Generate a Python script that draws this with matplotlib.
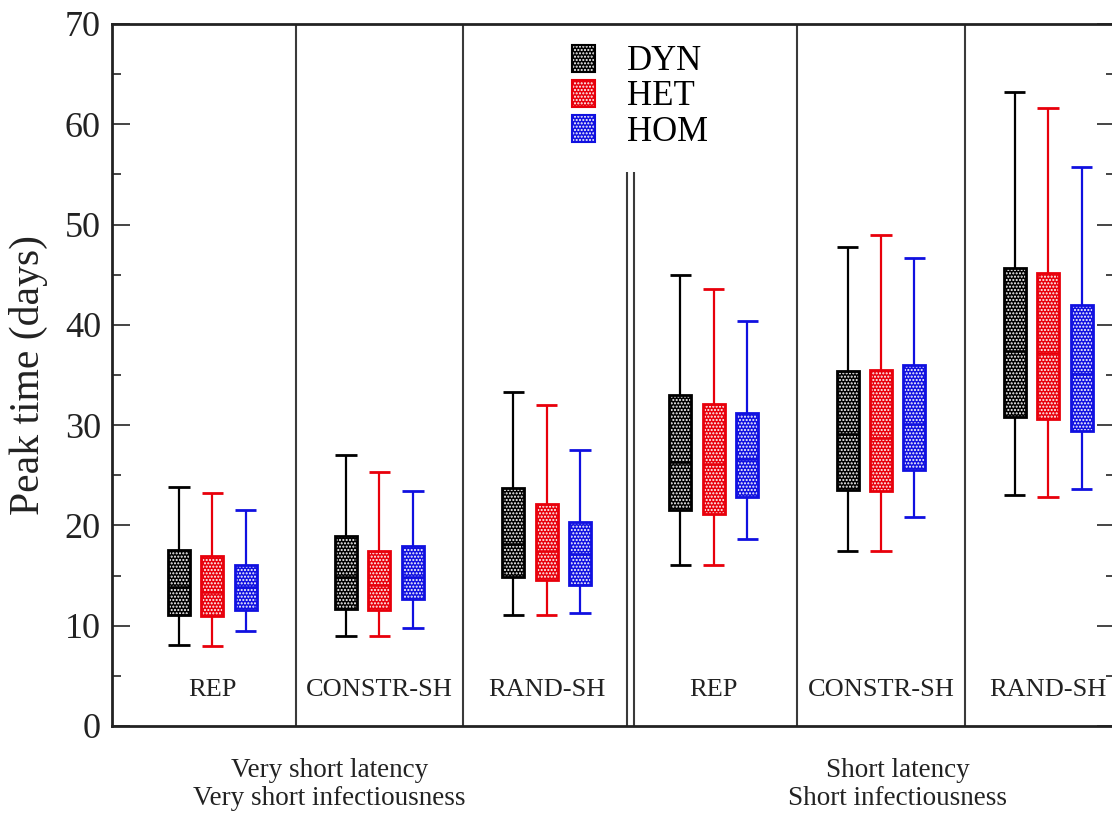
import matplotlib
matplotlib.use("Agg")
import matplotlib.pyplot as plt
from matplotlib.patches import Patch
from matplotlib.ticker import MultipleLocator

plt.rcParams['font.family'] = ['Liberation Serif', 'DejaVu Serif']
plt.rcParams['hatch.linewidth'] = 1.0

# ---------------- data ----------------
categories = ["REP", "CONSTR-SH", "RAND-SH", "REP", "CONSTR-SH", "RAND-SH"]
series = ["DYN", "HET", "HOM"]
colors = ["#000000", "#e8000b", "#1010e0"]

dyn_low = [8.1, 9.0, 11.1, 16.1, 17.5, 23.0]
dyn_q1 = [11.1, 11.7, 14.9, 21.5, 23.5, 30.85]
dyn_med = [13.9, 14.9, 18.1, 26.3, 29.1, 37.35]
dyn_q3 = [17.5, 18.9, 23.7, 33.0, 35.4, 45.7]
dyn_high = [23.8, 27.0, 33.3, 45.0, 47.8, 63.2]

het_low = [8.0, 9.0, 11.1, 16.1, 17.5, 22.8]
het_q1 = [11.0, 11.6, 14.6, 21.1, 23.4, 30.6]
het_med = [13.4, 14.1, 17.5, 26.1, 28.7, 37.2]
het_q3 = [17.0, 17.5, 22.1, 32.1, 35.5, 45.2]
het_high = [23.2, 25.3, 32.0, 43.6, 49.0, 61.6]

hom_low = [9.5, 9.8, 11.3, 18.6, 20.8, 23.6]
hom_q1 = [11.6, 12.7, 14.1, 22.8, 25.5, 29.4]
hom_med = [13.9, 14.9, 17.2, 26.6, 30.1, 35.1]
hom_q3 = [16.1, 17.9, 20.3, 31.2, 36.0, 42.0]
hom_high = [21.5, 23.4, 27.5, 40.4, 46.7, 55.7]

group_titles = ["Very short latency\nVery short infectiousness",
                "Short latency\nShort infectiousness"]

stats = [
    (dyn_low, dyn_q1, dyn_med, dyn_q3, dyn_high),
    (het_low, het_q1, het_med, het_q3, het_high),
    (hom_low, hom_q1, hom_med, hom_q3, hom_high),
]

# ---------------- figure ----------------
W, H = 1112, 814
fig = plt.figure(figsize=(W / 100, H / 100), dpi=100)
ax = fig.add_axes([112 / W, 1 - 726 / H, 1003 / W, 702 / H])

group_step = 5.0
offsets = [-1.0, 0.0, 1.0]
box_w = 0.66
cap_w = 0.64
lw_whisk = 1.6
lw_box = 2.0

for si, (lo, q1, med, q3, hi) in enumerate(stats):
    c = colors[si]
    xs = [gi * group_step + offsets[si] for gi in range(len(categories))]
    heights = [b - a for a, b in zip(q1, q3)]
    # whiskers
    ax.vlines(xs, q3, hi, color=c, lw=lw_whisk, zorder=2)
    ax.vlines(xs, lo, q1, color=c, lw=lw_whisk, zorder=2)
    ax.hlines(hi, [x - cap_w / 2 for x in xs], [x + cap_w / 2 for x in xs],
              color=c, lw=lw_box, zorder=2)
    ax.hlines(lo, [x - cap_w / 2 for x in xs], [x + cap_w / 2 for x in xs],
              color=c, lw=lw_box, zorder=2)
    # dotted box fill
    ax.bar(xs, heights, bottom=q1, width=box_w, color=c, edgecolor="white",
           hatch=".....", linewidth=0, zorder=3)
    # median
    ax.hlines(med, [x - box_w / 2 for x in xs], [x + box_w / 2 for x in xs],
              color=c, lw=1.8, zorder=4)
    # box outline
    ax.bar(xs, heights, bottom=q1, width=box_w, fill=False, edgecolor=c,
           linewidth=lw_box, zorder=5)

# separators
sep_color = "#3a3a3a"
for k in [1, 2, 4, 5]:
    ax.axvline(k * group_step - group_step / 2, color=sep_color, lw=1.5, zorder=1)
mid = 3 * group_step - group_step / 2
for d in (-0.105, 0.105):
    ax.vlines(mid + d, 0, 55.2, color=sep_color, lw=1.5, zorder=1)

# category labels
for gi, cat in enumerate(categories):
    ax.text(gi * group_step, 3.6, cat, ha="center", va="center", fontsize=19,
            color="#222222", zorder=6)

# group titles below axis
title_x = [3.5, 20.5]
for tx, title in zip(title_x, group_titles):
    line1, line2 = title.split("\n")
    ax.text(tx, -4.4, line1, ha="center", va="center", fontsize=19.5,
            color="#222222", clip_on=False)
    ax.text(tx, -7.2, line2, ha="center", va="center", fontsize=19.5,
            color="#222222", clip_on=False)

ax.set_xlim(-3, 27)
ax.set_ylim(0, 70)
ax.set_xticks([])
ax.yaxis.set_major_locator(MultipleLocator(10))
ax.yaxis.set_minor_locator(MultipleLocator(5))
ax.tick_params(axis="y", which="both", direction="in", left=True, right=True,
               colors="#444444", labelcolor="#222222", labelsize=26, pad=8)
ax.tick_params(axis="y", which="major", length=13, width=1.4)
ax.tick_params(axis="y", which="minor", length=6.5, width=1.4)
for side in ["left", "bottom", "top", "right"]:
    ax.spines[side].set_linewidth(2.0)
    ax.spines[side].set_color("#222222")

ax.set_ylabel("Peak time (days)", fontsize=30, color="#222222", labelpad=12)

# legend
handles = []
for c in colors:
    handles.append((Patch(facecolor=c, edgecolor="white", hatch=".....", linewidth=0),
                    Patch(fill=False, edgecolor=c, linewidth=1.5)))
ax.legend(handles, series, loc="upper left",
          bbox_to_anchor=(572 / W, 1 - 45 / H), bbox_transform=fig.transFigure,
          frameon=False, fontsize=25, handlelength=0.66, handleheight=0.8,
          handletextpad=0.92, labelspacing=0.05, borderpad=0, borderaxespad=0)

fig.savefig("out.png", dpi=100)
